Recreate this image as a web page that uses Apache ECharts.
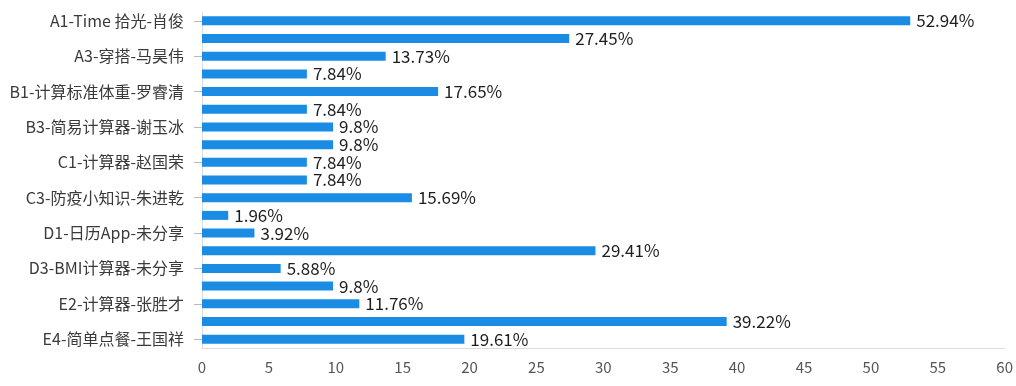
<!DOCTYPE html>
<html><head><meta charset="utf-8">
<script src="https://cdn.jsdelivr.net/npm/echarts@6/dist/echarts.min.js"></script>
<style>html,body{margin:0;padding:0;background:#fff}#c{width:1016px;height:386px}</style>
</head><body><div id="c"></div>
<script>
var categories = ["A1-Time 拾光-肖俊","A2-作品-未分享","A3-穿搭-马昊伟","A4-作品-未分享","B1-计算标准体重-罗睿清","B2-作品-未分享","B3-简易计算器-谢玉冰","B4-作品-未分享","C1-计算器-赵国荣","C2-作品-未分享","C3-防疫小知识-朱进乾","C4-作品-未分享","D1-日历App-未分享","D2-作品-未分享","D3-BMI计算器-未分享","E1-作品-未分享","E2-计算器-张胜才","E3-作品-未分享","E4-简单点餐-王国祥"];
var values = [52.94,27.45,13.73,7.84,17.65,7.84,9.8,9.8,7.84,7.84,15.69,1.96,3.92,29.41,5.88,9.8,11.76,39.22,19.61];
var xTicks = [0,5,10,15,20,25,30,35,40,45,50,55,60];
var chart = echarts.init(document.getElementById('c'));
var ff = '"Noto Sans CJK SC","Noto Sans",sans-serif';
chart.setOption({
  animation:false,
  grid:{left:202,right:11,top:12,bottom:38,containLabel:false},
  xAxis:{type:'value',min:xTicks[0],max:xTicks[xTicks.length-1],interval:5,
    splitLine:{show:false},
    axisLine:{show:true,lineStyle:{color:'#d9dde3'}},
    axisTick:{show:false},
    axisLabel:{color:'#555',fontSize:15,fontFamily:ff,margin:12}},
  yAxis:{type:'category',data:categories,inverse:true,
    axisLine:{show:true,lineStyle:{color:'#d9dde3'}},
    axisTick:{show:true,alignWithLabel:true,interval:1,length:8,lineStyle:{color:'#bbb'}},
    axisLabel:{interval:1,color:'#3a3a3a',fontSize:16,fontFamily:ff,margin:18}},
  series:[{type:'bar',data:values,barWidth:9,
    itemStyle:{color:'#1a8ce3'},
    label:{show:true,position:'right',formatter:'{c}%',color:'#1e1e1e',fontSize:17,fontFamily:ff,distance:6}}]
});
</script></body></html>
